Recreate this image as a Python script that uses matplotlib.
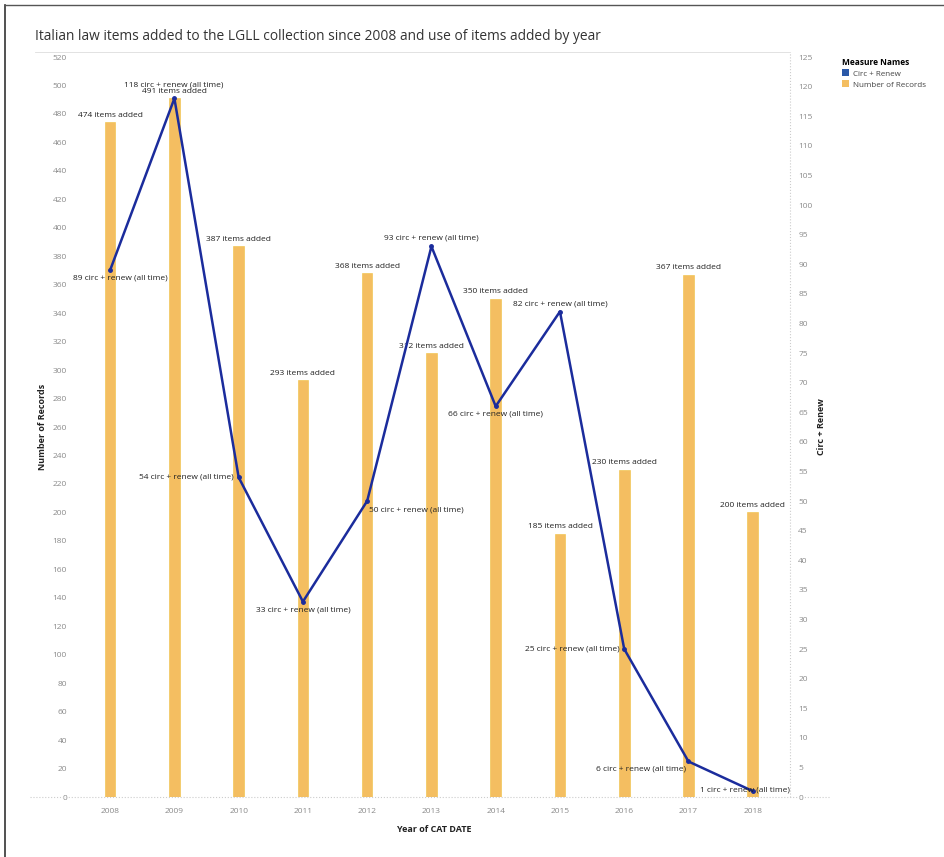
import numpy as np
import matplotlib
matplotlib.use("Agg")
import matplotlib.pyplot as plt
from matplotlib.patches import Patch
from matplotlib.lines import Line2D

plt.rcParams['font.family'] = ['Open Sans', 'DejaVu Sans']

# data
years = ['2008', '2009', '2010', '2011', '2012', '2013', '2014', '2015', '2016', '2017', '2018']
records = [474, 491, 387, 293, 368, 312, 350, 185, 230, 367, 200]
circ = [89, 118, 54, 33, 50, 93, 66, 82, 25, 6, 1]

# where each circ label sits relative to its point (pixels)
circ_lbl_off = [(10, -8), (-1, 13), (-52, 0), (0, -8), (49, -9), (0, 8),
                (0, -8), (0, 8), (-52, 0), (-47, -8), (-8, 1)]

BAR_COL = '#f4be61'
LINE_COL = '#1b2c9c'
TICK_COL = '#8a8a8a'
TXT_COL = '#222222'

fig = plt.figure(figsize=(9.45, 8.57), dpi=100)
ax = fig.add_axes([78/945, 60/857, (790-78)/945, (797-57)/857])
ax2 = ax.twinx()

x = np.arange(len(years))
ax.bar(x, records, width=0.165, color=BAR_COL, edgecolor='#f0c040', linewidth=0.4, zorder=2)
for xi, r in zip(x, records):
    ax.annotate(f'{r} items added', (xi, r), xytext=(0, 7), textcoords='offset pixels',
                ha='center', va='center', fontsize=6, color=TXT_COL, zorder=5)

ax2.plot(x, circ, color=LINE_COL, lw=1.8, marker='o', ms=2.5, zorder=3)
for xi, c, (dx, dy) in zip(x, circ, circ_lbl_off):
    ax2.annotate(f'{c} circ + renew (all time)', (xi, c), xytext=(dx, dy),
                 textcoords='offset pixels', ha='center', va='center',
                 fontsize=6, color=TXT_COL, zorder=5)

ax.set_xlim(-0.5, 10.58)
ax.set_ylim(0, 520)
ax2.set_ylim(0, 125)
ax.set_yticks(np.arange(0, 521, 20))
ax2.set_yticks(np.arange(0, 126, 5))
ax.set_xticks(x)
ax.set_xticklabels(years)

for a in (ax, ax2):
    for s in a.spines.values():
        s.set_visible(False)
    a.tick_params(length=0, labelsize=6, labelcolor=TICK_COL)
ax.tick_params(axis='x', pad=8)
ax.tick_params(axis='y', pad=8)
ax2.tick_params(axis='y', pad=6)

ax.set_xlabel('Year of CAT DATE', fontsize=6.5, fontweight='bold', color=TXT_COL, labelpad=7)
ax.set_ylabel('Number of Records', fontsize=6.5, fontweight='bold', color=TXT_COL, labelpad=4)
ax2.set_ylabel('Circ + Renew', fontsize=6.5, fontweight='bold', color=TXT_COL, labelpad=3)

# faint dotted axis lines like the scan
fig.add_artist(Line2D([30/945, 830/945], [60/857, 60/857], color='#cccccc', lw=0.8, ls=':'))
fig.add_artist(Line2D([790/945, 790/945], [60/857, 805/857], color='#cccccc', lw=0.8, ls=':'))
fig.add_artist(Line2D([35/945, 790/945], [805/857, 805/857], color='#dddddd', lw=0.6))

# page frame
fig.add_artist(Line2D([5/945, 5/945], [0, 852/857], color='#333333', lw=1.2))
fig.add_artist(Line2D([5/945, 1], [852/857, 852/857], color='#555555', lw=1.0))

fig.text(35/945, 1 - 36/857, 'Italian law items added to the LGLL collection since 2008 and use of items added by year',
         fontsize=9.9, color='#333333', va='center', ha='left')

handles = [Patch(facecolor='#2a58a8', edgecolor='none', label='Circ + Renew'),
           Patch(facecolor=BAR_COL, edgecolor='none', label='Number of Records')]
leg = fig.legend(handles=handles, title='Measure Names', loc='upper left',
                 bbox_to_anchor=(836/945, 1 - 52/857), frameon=False, fontsize=5.8,
                 title_fontproperties={'size': 6, 'weight': 'bold'}, alignment='left',
                 handlelength=0.9, handleheight=0.9, handletextpad=0.5, labelspacing=0.35,
                 borderpad=0.2)
for t in leg.get_texts():
    t.set_color('#444444')

fig.savefig('out.png', dpi=100)
